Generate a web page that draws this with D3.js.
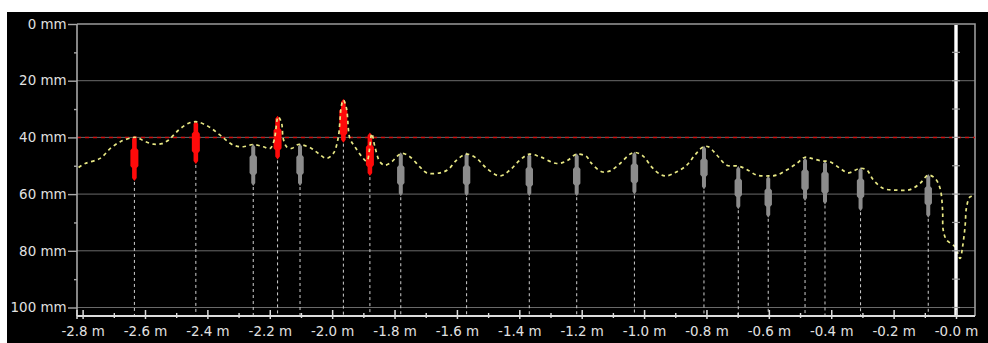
<!DOCTYPE html>
<html>
<head>
<meta charset="utf-8">
<script src="https://cdn.jsdelivr.net/npm/d3@7"></script>
<style>
  html, body { margin: 0; padding: 0; background: #fff; }
  svg { display: block; }
  text { font-family: "DejaVu Sans", sans-serif; }
</style>
</head>
<body>
<svg id="chart" width="988" height="343"></svg>
<script>
// Position along the track (m) and depth (mm) of the measured profile
const profilePos = [-2.813, -2.792, -2.744, -2.711, -2.679, -2.642, -2.626, -2.599, -2.572, -2.546,
  -2.524, -2.492, -2.460, -2.433, -2.396, -2.359, -2.317, -2.285, -2.253, -2.221,
  -2.199, -2.186, -2.173, -2.162, -2.157, -2.146, -2.130, -2.109, -2.093, -2.066,
  -2.045, -2.018, -1.996, -1.981, -1.970, -1.964, -1.954, -1.943, -1.927, -1.905,
  -1.889, -1.880, -1.873, -1.863, -1.847, -1.831, -1.809, -1.793, -1.777, -1.751,
  -1.719, -1.697, -1.654, -1.628, -1.601, -1.569, -1.537, -1.505, -1.462, -1.430,
  -1.398, -1.368, -1.334, -1.280, -1.248, -1.216, -1.184, -1.173, -1.136, -1.109,
  -1.077, -1.045, -1.029, -1.003, -0.976, -0.949, -0.928, -0.895, -0.863, -0.837,
  -0.810, -0.794, -0.767, -0.735, -0.698, -0.671, -0.639, -0.602, -0.575, -0.543,
  -0.511, -0.484, -0.463, -0.431, -0.404, -0.372, -0.345, -0.308, -0.286, -0.265,
  -0.233, -0.190, -0.147, -0.115, -0.089, -0.067, -0.051, -0.043, -0.041, -0.030,
  -0.003, 0.013, 0.021, 0.029, 0.034, 0.045, 0.061];
const profileDepth = [50.6, 49.2, 47.4, 43.9, 41.5, 40.1, 40.0, 41.5, 42.4, 42.2,
  40.9, 37.4, 35.0, 34.5, 36.2, 39.2, 42.7, 43.3, 42.5, 43.3,
  43.9, 41.0, 32.7, 35.0, 40.4, 43.3, 43.9, 42.5, 42.7, 43.9,
  45.6, 47.4, 45.6, 40.4, 28.6, 26.8, 29.8, 40.4, 43.3, 46.8,
  48.4, 44.0, 38.6, 43.3, 48.6, 49.8, 48.6, 46.8, 45.6, 46.8,
  50.4, 52.5, 52.5, 51.3, 48.0, 45.9, 47.4, 50.9, 53.6, 51.5,
  48.0, 45.9, 46.8, 49.2, 48.3, 45.9, 46.8, 48.6, 52.1, 51.8,
  49.2, 45.9, 45.3, 46.6, 50.4, 53.0, 53.6, 52.1, 49.8, 46.2,
  43.3, 43.3, 46.2, 49.8, 50.1, 51.3, 53.3, 53.6, 53.3, 51.5,
  49.2, 47.0, 47.4, 48.3, 48.6, 50.9, 52.5, 50.9, 51.5, 55.0,
  58.0, 58.6, 58.4, 56.2, 53.3, 54.5, 58.0, 65.7, 72.7, 76.2,
  78.6, 82.7, 78.6, 71.5, 64.5, 61.0, 60.7];

// Individual readings: position (m) and depth span (mm) of tip, core and tail
const markPos = [-2.634, -2.437, -2.253, -2.175, -2.103, -1.964, -1.879, -1.780, -1.569, -1.368,
  -1.216, -1.031, -0.808, -0.698, -0.602, -0.484, -0.420, -0.306, -0.089];
const markTop = [39.8, 34.5, 42.7, 32.7, 42.5, 26.8, 38.6, 45.6, 45.6, 45.9,
  45.9, 45.4, 43.3, 50.4, 53.9, 47.4, 48.6, 50.9, 53.3];
const coreTop = [43.8, 38.0, 46.2, 36.8, 46.2, 29.8, 42.7, 49.8, 49.8, 50.4,
  50.4, 49.2, 47.4, 54.5, 58.0, 51.3, 52.1, 54.5, 57.2];
const coreBottom = [50.8, 45.5, 53.3, 44.5, 53.3, 39.2, 50.4, 56.8, 56.8, 57.4,
  57.0, 56.2, 53.9, 61.0, 64.5, 58.6, 59.8, 61.5, 63.9];
const markBottom = [55.0, 49.0, 56.8, 47.4, 56.8, 41.5, 53.3, 60.4, 60.4, 60.4,
  60.4, 59.8, 58.0, 65.0, 68.0, 62.1, 63.3, 65.7, 68.0];

const limitDepth = 40;

// Axis ticks and labels
const xTicks = [-2.8, -2.6, -2.4, -2.2, -2.0, -1.8, -1.6, -1.4, -1.2, -1.0, -0.8, -0.6, -0.4, -0.2, 0];
const xTickLabels = ["-2.8 m", "-2.6 m", "-2.4 m", "-2.2 m", "-2.0 m", "-1.8 m", "-1.6 m", "-1.4 m",
  "-1.2 m", "-1.0 m", "-0.8 m", "-0.6 m", "-0.4 m", "-0.2 m", "-0.0 m"];
const xMinorTicks = [-2.7, -2.5, -2.3, -2.1, -1.9, -1.7, -1.5, -1.3, -1.1, -0.9, -0.7, -0.5, -0.3, -0.1];
const yTicks = [0, 20, 40, 60, 80, 100];
const yTickLabels = ["0 mm", "20 mm", "40 mm", "60 mm", "80 mm", "100 mm"];
const yMinorTicks = [10, 30, 50, 70, 90];

const svg = d3.select("#chart");
const plotLeft = 77, plotRight = 975, plotTop = 24, axisY = 316;

const x = d3.scaleLinear().domain([-2.818, 0.0609]).range([plotLeft, plotRight]);
const y = d3.scaleLinear().domain([0, 100]).range([plotTop, 307.5]);

// panel background
svg.append("rect").attr("x", 7).attr("y", 12).attr("width", 981).attr("height", 331).attr("fill", "#000");

// horizontal grid
svg.append("g").selectAll("line").data(yTicks.slice(1)).join("line")
  .attr("x1", plotLeft).attr("x2", plotRight)
  .attr("y1", d => y(d)).attr("y2", d => y(d))
  .attr("stroke", "#6a6a6a").attr("stroke-width", 1);

// frame: top and right edges
svg.append("path")
  .attr("d", `M${plotLeft},${y(0)}H${plotRight}V${axisY}`)
  .attr("fill", "none").attr("stroke", "#9a9a9a").attr("stroke-width", 1.6);

// limit line
svg.append("line")
  .attr("x1", plotLeft).attr("x2", plotRight)
  .attr("y1", y(limitDepth)).attr("y2", y(limitDepth))
  .attr("stroke", "#d01010").attr("stroke-width", 1.5).attr("stroke-dasharray", "4,4");

// drop lines from each reading to the axis
svg.append("g").selectAll("line").data(markPos).join("line")
  .attr("x1", d => x(d)).attr("x2", d => x(d))
  .attr("y1", (d, i) => y(markBottom[i]) + 2).attr("y2", axisY - 1)
  .attr("stroke", "#d0d0d0").attr("stroke-width", 1).attr("stroke-dasharray", "3,3");

// readings as spindles
const marks = markPos.map((p, i) => ({ p, t: markTop[i], ct: coreTop[i], cb: coreBottom[i], b: markBottom[i] }));
function spindle(d) {
  const cx = x(d.p), yt = y(d.t), yct = y(d.ct), ycb = y(d.cb), yb = y(d.b);
  const over = d.t <= limitDepth;
  const n = over ? 2.3 : 2.0, w = over ? 4.0 : 3.7;
  return `M${cx},${yt - 1}L${cx + n},${yt + 2}V${yct}L${cx + w},${yct + 2}V${ycb - 2}L${cx + n},${ycb}V${yb - 2}L${cx},${yb + 1}` +
         `L${cx - n},${yb - 2}V${ycb}L${cx - w},${ycb - 2}V${yct + 2}L${cx - n},${yct}V${yt + 2}Z`;
}
svg.append("g").selectAll("path").data(marks).join("path")
  .attr("d", spindle)
  .attr("fill", d => d.t <= limitDepth ? "#ff0a0a" : "#8c8c8c");

// profile curve
const line = d3.line().x(d => x(d[0])).y(d => y(d[1])).curve(d3.curveCatmullRom.alpha(0.5));
svg.append("path")
  .datum(profilePos.map((p, i) => [p, profileDepth[i]]))
  .attr("d", line)
  .attr("fill", "none").attr("stroke", "#e8e884").attr("stroke-width", 1.7)
  .attr("stroke-dasharray", "3.5,3.5");

// zero marker
svg.append("line")
  .attr("x1", x(0)).attr("x2", x(0)).attr("y1", y(0) + 1).attr("y2", axisY)
  .attr("stroke", "#fff").attr("stroke-width", 3.4);
svg.append("g").selectAll("line").data(d3.range(10, 101, 10)).join("line")
  .attr("x1", x(0) - 4).attr("x2", x(0) + 4)
  .attr("y1", d => y(d)).attr("y2", d => y(d))
  .attr("stroke", "#9a9a9a").attr("stroke-width", 1.2);

// y axis
const yAxis = svg.append("g").attr("transform", `translate(${plotLeft},0)`)
  .call(d3.axisLeft(y).tickValues(yTicks).tickSize(9).tickPadding(1.5)
    .tickFormat((d, i) => yTickLabels[i]));
yAxis.select(".domain").attr("d", `M0,${y(0)}V${axisY}`).attr("stroke", "#a8a8a8").attr("stroke-width", 1.6);
yAxis.selectAll(".tick line").attr("stroke", "#a8a8a8").attr("stroke-width", 1.4);
yAxis.selectAll("text").attr("fill", "#e2e2e2").attr("font-size", 13.4).attr("font-family", "DejaVu Sans, sans-serif");
const yMinor = svg.append("g").attr("transform", `translate(${plotLeft},0)`)
  .call(d3.axisLeft(y).tickValues(yMinorTicks).tickSize(3).tickFormat(""));
yMinor.select(".domain").remove();
yMinor.selectAll("line").attr("stroke", "#a8a8a8").attr("stroke-width", 1.4);

// x axis
const xAxis = svg.append("g").attr("transform", `translate(0,${axisY})`)
  .call(d3.axisBottom(x).tickValues(xTicks).tickSize(3).tickFormat((d, i) => xTickLabels[i]));
xAxis.select(".domain").attr("d", `M${plotLeft},0H${plotRight}`).attr("stroke", "#dcdcdc").attr("stroke-width", 1.8);
xAxis.selectAll(".tick line").attr("y1", -6).attr("y2", 3).attr("stroke", "#dcdcdc").attr("stroke-width", 1.5);
xAxis.selectAll("text").attr("y", 20).attr("dy", 0)
  .attr("fill", "#e2e2e2").attr("font-size", 13.4).attr("font-family", "DejaVu Sans, sans-serif");
const xMinor = svg.append("g").attr("transform", `translate(0,${axisY})`)
  .call(d3.axisBottom(x).tickValues(xMinorTicks).tickSize(2).tickFormat(""));
xMinor.select(".domain").remove();
xMinor.selectAll("line").attr("y1", -3).attr("y2", 2).attr("stroke", "#dcdcdc").attr("stroke-width", 1.4);
// small end tick at the left corner
svg.append("line").attr("x1", plotLeft).attr("x2", plotLeft).attr("y1", axisY - 6).attr("y2", axisY + 3)
  .attr("stroke", "#dcdcdc").attr("stroke-width", 1.5);
</script>
</body>
</html>
